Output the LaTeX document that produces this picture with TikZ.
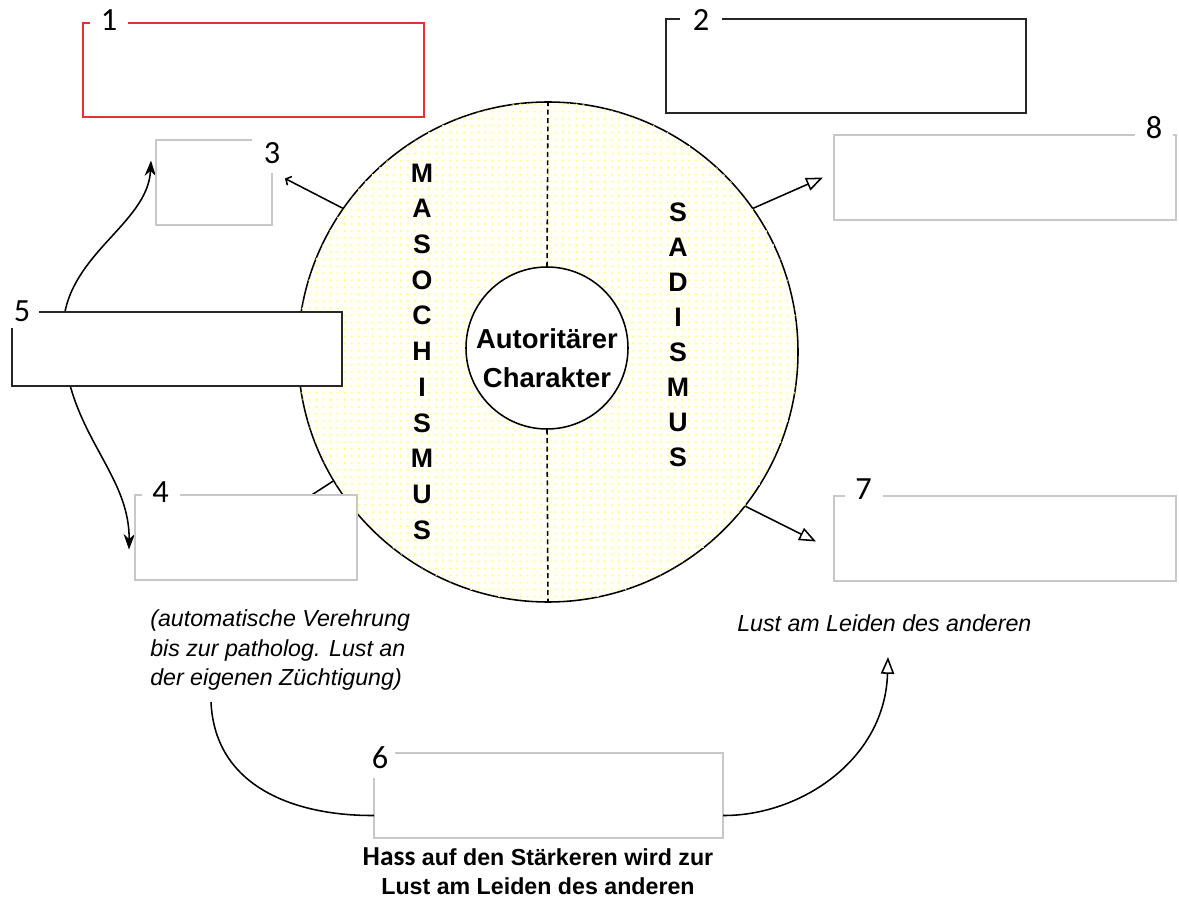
\documentclass[tikz,border=0pt]{standalone}
\usepackage{fontspec}
\setmainfont{Liberation Sans}
\newfontfamily\numfont{Carlito}
\usepackage{xcolor}
\usepackage{tikz}
\usetikzlibrary{arrows.meta, positioning, calc, patterns.meta, backgrounds}
\newcommand{\pxu}{0.025cm}
\definecolor{boxred}{RGB}{232,48,48}
\definecolor{boxgrey}{RGB}{200,200,200}

\tikzset{
    box/.style={draw=boxgrey, line width=1.2pt, fill=white, inner sep=0pt, outer sep=0pt},
    darkbox/.style={box, draw=black!85, line width=1.6pt},
    redbox/.style={box, draw=boxred, line width=1.4pt},
    numlabel/.style={fill=white, inner sep=0pt, minimum width=38*\pxu, minimum height=24*\pxu,
        font=\numfont\fontsize{23}{23}\selectfont},
    letter/.style={inner sep=0pt, font=\bfseries\fontsize{19}{19}\selectfont},
    note/.style={inner sep=0pt, font=\itshape\fontsize{16.5}{21.3}\selectfont},
    arr/.style={line width=1.1pt},
    openarr/.style={arr, -{Triangle[open, length=12pt, width=9.5pt]}},
    divider/.style={line width=1.1pt, dash pattern=on 3.5pt off 2.5pt}
}

\begin{document}
\begin{tikzpicture}[x=\pxu, y=-\pxu]
    \useasboundingbox (0,0) rectangle (1179,899);

    \node[circle, draw, line width=1.1pt, minimum size=500*\pxu, fill=yellow!3,
        postaction={pattern={Dots[distance=5pt, radius=0.8pt]}, pattern color=yellow!50}]
        (ring) at (548,352) {};
    \node[circle, draw, line width=1.1pt, fill=white, minimum size=162*\pxu, inner sep=0pt,
        align=center, font=\bfseries\fontsize{19.5}{27.7}\selectfont]
        (core) at (547,348) {\rule{0pt}{28.5pt}Autoritärer\\Charakter};
    \draw[divider] (ring.north) -- (core.north);
    \draw[divider] (core.south) -- (ring.south);

    \foreach \l [count=\i] in {M,A,S,O,C,H,I,S,M,U,S}
        \node[letter] (mas\i) at (422,{173+(\i-1)*35.7}) {\l};
    \foreach \l [count=\i] in {S,A,D,I,S,M,U,S}
        \node[letter] (sad\i) at (678,{212+(\i-1)*35}) {\l};

    \node[redbox, minimum width=341*\pxu, minimum height=94*\pxu] (b1) at (253.5,70) {};
    \node[darkbox, minimum width=360*\pxu, minimum height=94*\pxu] (b2) at (846,66) {};
    \node[box, minimum width=116*\pxu, minimum height=85*\pxu] (b3) at (214,182.5) {};
    \node[box, minimum width=222*\pxu, minimum height=85*\pxu] (b4) at (246,537.5) {};
    \node[darkbox, minimum width=330*\pxu, minimum height=74*\pxu] (b5) at (177,349) {};
    \node[box, minimum width=349*\pxu, minimum height=85*\pxu] (b6) at (548.5,795.5) {};
    \node[box, minimum width=342*\pxu, minimum height=85*\pxu] (b7) at (1005,538.5) {};
    \node[box, minimum width=342*\pxu, minimum height=85*\pxu] (b8) at (1005,177.5) {};

    \node[numlabel] (l1) at (109,20) {1};
    \node[numlabel, minimum width=42*\pxu] (l2) at (701,20) {2};
    \node[numlabel, minimum width=40*\pxu, minimum height=40*\pxu] (l3) at (272,153) {3};
    \node[numlabel] (l4) at (160.5,492) {4};
    \node[numlabel, minimum width=34*\pxu, minimum height=34*\pxu] (l5) at (22,311) {5};
    \node[numlabel, minimum width=30*\pxu, minimum height=40*\pxu] (l6) at (380,758) {6};
    \node[numlabel] (l7) at (863.5,489) {7};
    \node[numlabel] (l8) at (1154,128) {8};

    \node[note, anchor=west, align=left] (masnote) at (150,650)
        {(automatische Verehrung\\bis zur patholog. Lust an\\der eigenen Züchtigung)};
    \node[note, anchor=west] (sadnote) at (737,623) {Lust am Leiden des anderen};
    \node[align=center, inner sep=0pt, font=\bfseries\fontsize{16.5}{20.6}\selectfont]
        (hass) at (538,871) {{\numfont\fontsize{19.5}{20.6}\selectfont Hass} auf den Stärkeren wird zur\\Lust am Leiden des anderen};

    \coordinate (mstart) at (211,702);
    \coordinate (send) at (888,657);

    \draw[arr, -{Straight Barb[length=3pt, width=7pt]}] (ring.145.5) -- ($(b3.east)+(13,-4)$);
    \draw[openarr] (ring.35) -- ($(b8.west)+(-11,0)$);
    \draw[openarr] (ring.322.5) -- ($(b7.west)+(-18,3)$);
    \draw[arr] (mstart) .. controls (215,790) and (300,816) .. ($(b6.west)+(0,20)$);
    \draw[openarr] ($(b6.east)+(0,20)$) .. controls (800,816) and (885,760) .. (send);

    \begin{scope}[on background layer]
        \draw[arr] (ring.211.4) -- (b4.center);
        \draw[arr, {Stealth[length=11pt, width=8pt]}-{Stealth[length=11pt, width=8pt]}]
            ($(b3.west)+(-5,-22)$) .. controls (148,225) and (64,255) .. (63,330)
            .. controls (62,430) and (130,470) .. ($(b4.west)+(-6,12)$);
    \end{scope}
\end{tikzpicture}
\end{document}
